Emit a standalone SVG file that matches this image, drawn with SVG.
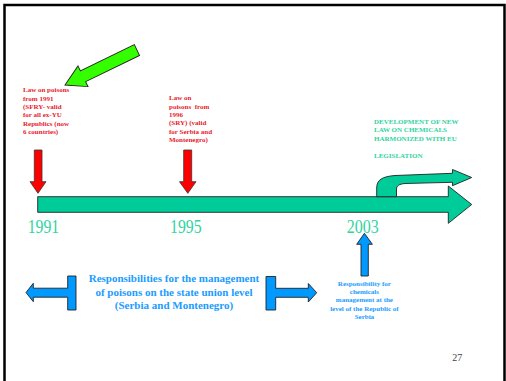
<svg xmlns="http://www.w3.org/2000/svg" width="506" height="381" viewBox="0 0 506 381">
<style>
.red{font-family:"Liberation Serif",serif;font-weight:bold;font-size:7px;fill:#e8202a}
.grn{font-family:"Liberation Serif",serif;font-weight:bold;font-size:7px;fill:#2fd49e}
.yr{font-family:"Liberation Serif",serif;font-size:18px;fill:#2fd49e}
.blu{font-family:"Liberation Serif",serif;font-weight:bold;fill:#1a9cff;text-anchor:middle}
.ra{fill:#ff0000;stroke:#333;stroke-width:0.8}
.ba{fill:#0099ff;stroke:#222;stroke-width:0.9}
.ta{fill:#00cc99;stroke:#222;stroke-width:0.9}
</style>
<rect width="506" height="381" fill="#fff"/>
<path d="M4.5,381 V5 H504.5 V381" fill="none" stroke="#000" stroke-width="2.5"/>

<g id="connectors">
  <polygon id="green-pointer" points="0,0 20,-11.5 20,-6 80,-6 80,6 20,6 20,11.5" transform="translate(65,85) rotate(-25.9)" fill="#33ff00" stroke="#222" stroke-width="0.9"/>
  <polygon class="ra" points="34.3,150 42,150 42,181.7 46,181.7 38,193.3 30,181.7 34.3,181.7"/>
  <polygon class="ra" points="183.7,150 191.7,150 191.7,181.7 196,181.7 187.8,193.3 179.5,181.7 183.7,181.7"/>
  <polygon id="timeline" class="ta" points="37.7,196.7 448.3,196.7 448.3,186 471.7,204.5 448.3,223.3 448.3,212.3 37.7,212.3"/>
  <path id="branch" class="ta" d="M376.7,196.7 L376.7,188 C376.7,180 382,176.5 395,175.5 L452.5,173.3 L452.5,169.5 L471.7,177.5 L452.5,185.7 L452.5,182.3 L405,183.5 C399,184 396.5,186 396.5,189 L396.5,196.7 Z"/>
  <polygon class="ba" points="26,292.5 33.3,283.3 33.3,288.2 67.7,288.2 67.7,276 76,276 76,310 67.7,310 67.7,297.2 33.3,297.2 33.3,301.7"/>
  <polygon class="ba" points="316.7,292.7 308.3,283.5 308.3,288.3 275.7,288.3 275.7,276.5 266,276.5 266,310 275.7,310 275.7,297.3 308.3,297.3 308.3,302"/>
  <polygon class="ba" points="364.4,233.3 372.4,244.3 368.3,244.3 368.3,276 361,276 361,244.3 356.7,244.3"/>
</g>

<g id="law1991">
  <text class="red" x="23" y="92">Law on poisons</text>
  <text class="red" x="23" y="100.5">from 1991</text>
  <text class="red" x="23" y="108.8">(SFRY- valid</text>
  <text class="red" x="23" y="117">for all ex-YU</text>
  <text class="red" x="23" y="125.5">Republics (now</text>
  <text class="red" x="23" y="133.8">6 countries)</text>
</g>

<g id="law1996">
  <text class="red" x="169" y="100">Law on</text>
  <text class="red" x="169" y="109" xml:space="preserve">poisons  from</text>
  <text class="red" x="169" y="117">1996</text>
  <text class="red" x="169" y="125">(SRY) (valid</text>
  <text class="red" x="169" y="134">for Serbia and</text>
  <text class="red" x="169" y="142">Montenegro)</text>
</g>

<g id="newlaw">
  <text class="grn" x="374" y="124">DEVELOPMENT OF NEW</text>
  <text class="grn" x="374" y="132">LAW ON CHEMICALS</text>
  <text class="grn" x="374" y="140.6">HARMONIZED WITH EU</text>
  <text class="grn" x="374" y="157.6">LEGISLATION</text>
</g>

<g id="years">
  <text class="yr" x="27.7" y="232.5" textLength="31.5" lengthAdjust="spacingAndGlyphs">1991</text>
  <text class="yr" x="170" y="232.5" textLength="31.5" lengthAdjust="spacingAndGlyphs">1995</text>
  <text class="yr" x="346.7" y="232.5" textLength="32" lengthAdjust="spacingAndGlyphs">2003</text>
</g>

<g id="union">
  <text class="blu" x="174" y="282" font-size="11">Responsibilities for the management</text>
  <text class="blu" x="174" y="295.5" font-size="11">of poisons on the state union level</text>
  <text class="blu" x="174" y="309" font-size="11">(Serbia and Montenegro)</text>
</g>

<g id="republic">
  <text class="blu" x="364.4" y="286" font-size="7">Responsibility for</text>
  <text class="blu" x="364.4" y="294" font-size="7">chemicals</text>
  <text class="blu" x="364.4" y="302" font-size="7">management at the</text>
  <text class="blu" x="364.4" y="311" font-size="7">level of the Republic of</text>
  <text class="blu" x="364.4" y="319" font-size="7">Serbia</text>
</g>

<text x="452.3" y="360.5" font-family="Liberation Serif,serif" font-size="10" fill="#444">27</text>
</svg>
